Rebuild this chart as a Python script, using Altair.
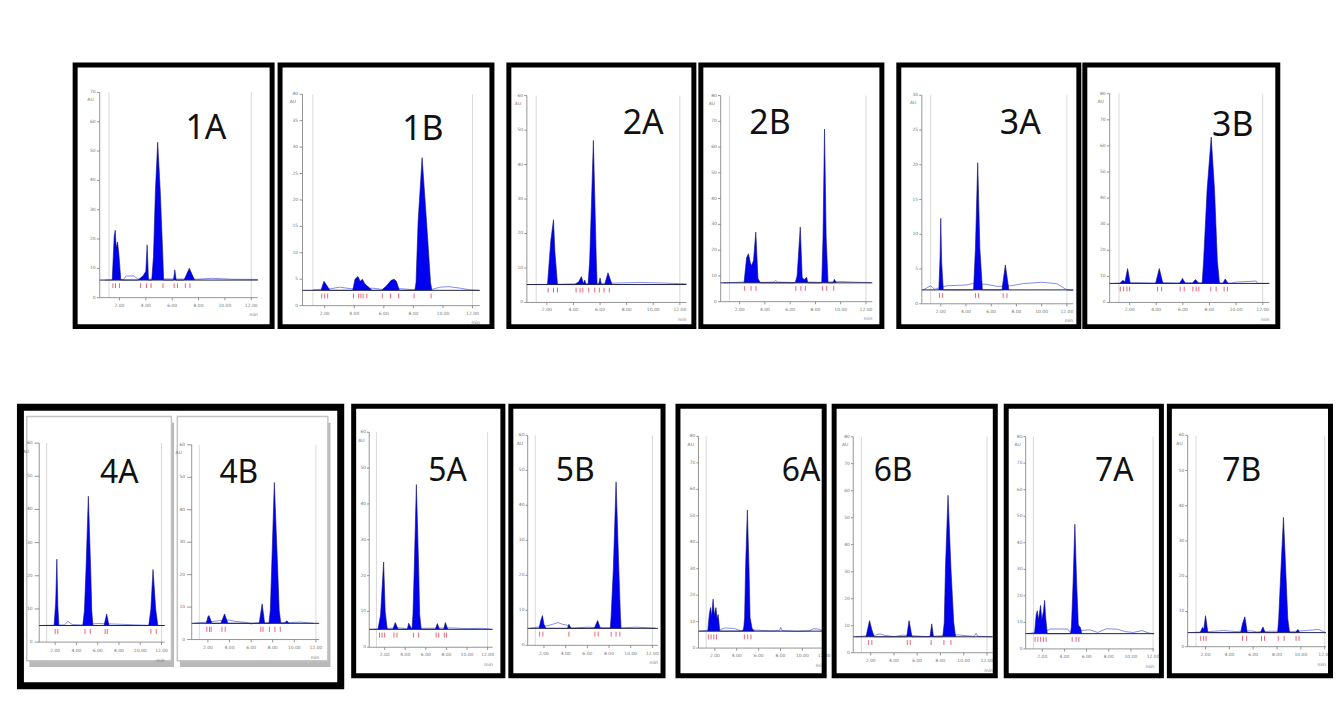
import altair as alt
import pandas as pd

# ---------------- chromatogram data: (retention time [min], signal) ----------------
PEAKS_1A = [(1.45,6),(1.6,21),(1.68,23),(1.75,17),(1.85,19),(1.95,15),(2.1,6),(3.4,6),(3.8,7.5),(4.0,9),(4.1,18),(4.2,6),
            (4.45,6),(4.58,14),(4.73,36.7),(4.9,53),(5.09,36.7),(5.29,14),(5.35,6),(6.1,6),(6.2,9.5),(6.3,6),(6.9,6),(7.3,10),(7.7,6)]
DRIFT_1A = [(0.9,6),(2.3,6.2),(2.5,7.4),(3.1,7.4),(3.4,6.3),(5.5,6.4),(8.0,6.3),(9.0,6.6),(10.5,6.3),(12.5,6.2)]
MARK_1A = [1.5, 1.7, 2.0, 3.6, 4.05, 4.4, 5.3, 6.15, 6.4, 7.0, 7.35]

PEAKS_1B = [(1.75,2.9),(1.95,4.6),(2.1,4.0),(2.35,2.9),(3.9,2.9),(4.05,5.0),(4.25,5.5),(4.4,4.6),(4.55,5.0),(4.7,4.2),(4.85,3.8),
            (5.2,2.9),(5.85,2.9),(6.2,3.8),(6.5,4.8),(6.7,5.0),(6.85,4.6),(7.05,2.9),(8.1,2.9),(8.18,4.4),(8.32,15.9),(8.59,28),
            (8.89,15.9),(9.16,4.4),(9.25,2.9)]
DRIFT_1B = [(1.2,3.0),(2.4,3.2),(3.0,3.5),(3.8,3.2),(5.3,3.3),(5.8,3.1),(7.2,3.2),(8.0,3.0),(9.3,3.1),(9.8,3.5),(10.4,3.6),
            (11.2,3.3),(11.8,3.0),(12.4,2.9)]
MARK_1B = [1.8, 2.0, 2.2, 3.95, 4.3, 4.45, 4.6, 4.85, 5.9, 6.45, 7.0, 8.05, 9.2]

PEAKS_2A = [(2.05,5.2),(2.3,18),(2.5,24),(2.6,15),(2.8,5.2),(4.1,5.2),(4.4,6.0),(4.6,7.5),(4.75,5.5),(4.85,6.5),(4.95,5.2),
            (5.1,5.2),(5.22,12),(5.35,28),(5.5,47),(5.62,28),(5.72,12),(5.78,5.2),(5.9,5.2),(6.0,7.1),(6.1,5.2),(6.35,5.2),
            (6.6,8.6),(6.9,5.2)]
DRIFT_2A = [(0.8,5.2),(3.0,5.3),(4.0,5.4),(7.0,5.6),(9.0,5.8),(11.0,5.6),(12.5,5.4)]
MARK_2A = [2.1, 2.5, 2.8, 4.2, 4.5, 4.7, 5.15, 5.6, 5.95, 6.3, 6.7]

PEAKS_2B = [(2.35,7.3),(2.55,17),(2.7,18.6),(2.85,15),(2.95,14),(3.1,16),(3.28,27),(3.45,9),(3.65,7.3),(6.4,7.3),(6.55,10),
            (6.8,29),(6.95,9.5),(7.1,8.5),(7.3,9.5),(7.4,7.3),(8.5,7.3),(8.6,25),(8.72,67),(8.85,25),(9.0,7.3),(9.4,7.3),
            (9.5,8.7),(9.65,7.3)]
DRIFT_2B = [(0.8,7.3),(2.3,7.6),(3.7,7.5),(4.7,7.6),(4.85,8.2),(5.0,7.6),(6.3,7.4),(7.5,7.6),(8.4,7.5),(10.0,7.8),(11.0,7.6),(12.4,7.4)]
MARK_2B = [2.4, 2.9, 3.3, 6.45, 6.85, 7.2, 8.55, 8.9, 9.45]

PEAKS_3A = [(1.85,2.0),(1.95,7),(2.0,12.3),(2.07,6),(2.2,2.0),(4.6,2.0),(4.75,8),(4.93,20.3),(5.1,8),(5.3,2.0),(6.85,2.0),
            (7.12,5.6),(7.4,2.0)]
DRIFT_3A = [(0.6,2.0),(1.2,2.6),(1.5,2.1),(2.5,2.6),(4.0,2.7),(4.5,2.9),(5.6,2.8),(6.5,2.5),(7.6,2.6),(8.5,2.9),(10.0,3.1),
            (11.2,2.9),(12.0,2.0),(12.5,1.9)]
MARK_3A = [1.9, 2.15, 4.75, 5.0, 6.95, 7.25]

PEAKS_3B = [(1.25,7.3),(1.5,8.5),(1.65,7.8),(1.85,13),(2.05,7.3),(3.95,7.3),(4.23,13),(4.5,7.3),(5.75,7.3),(5.97,9.2),(6.2,7.3),
            (6.7,7.3),(6.95,8.8),(7.2,7.3),(7.45,7.3),(7.56,16),(7.82,43),(8.13,63.4),(8.38,43),(8.59,16),(8.75,7.3),(9.0,7.3),
            (9.18,9),(9.4,7.3)]
DRIFT_3B = [(0.8,7.3),(2.2,7.6),(3.8,7.4),(4.7,7.6),(5.6,7.4),(6.4,7.6),(9.6,7.4),(10.0,7.8),(11.5,8.2),(11.6,7.3),(12.4,7.3)]
MARK_3B = [1.3, 1.55, 1.8, 2.0, 4.1, 4.4, 5.8, 6.1, 6.75, 7.0, 7.2, 8.1, 8.5, 9.1, 9.35]

PEAKS_4A = [(1.9,5),(2.05,12),(2.16,25),(2.25,11),(2.35,5),(4.6,5),(4.75,9.5),(4.9,21.9),(5.12,44),(5.34,21.9),(5.44,9.5),
            (5.55,5),(6.6,5),(6.84,8.5),(7.06,5),(10.8,5),(11.0,10),(11.2,21.9),(11.45,10),(11.65,5)]
DRIFT_4A = [(0.7,5),(2.9,5.2),(3.2,6.3),(3.6,5.3),(4.4,5.2),(6.0,5.6),(8.0,5.4),(9.5,5.2),(10.5,5.1),(12.2,5.0)]
MARK_4A = [2.0, 2.25, 4.8, 5.3, 6.7, 6.9, 11.0, 11.5]

PEAKS_4B = [(1.85,5),(2.0,7.0),(2.1,7.4),(2.37,5),(3.2,5),(3.54,7.9),(3.85,5),(6.75,5),(7.02,11),(7.25,5),(7.65,5),(7.78,9),
            (7.9,21.6),(8.15,48.4),(8.46,21.6),(8.6,9),(8.75,5),(9.1,5),(9.3,5.8),(9.5,5)]
DRIFT_4B = [(0.7,5),(1.6,5.3),(2.5,5.6),(3.0,5.8),(4.0,6.0),(4.5,5.6),(5.5,5.3),(6.0,4.8),(6.5,5.1),(9.6,5.2),(10.5,5.4),(11.8,5.0)]
MARK_4B = [1.9, 2.15, 2.3, 3.3, 3.6, 6.9, 7.1, 7.7, 8.2, 8.7]

PEAKS_5A = [(1.35,5),(1.6,9),(1.9,23.8),(2.05,10),(2.25,5),(2.8,5),(3.03,6.9),(3.3,5),(4.2,5),(4.33,6.7),(4.5,5.8),(4.66,5),
            (4.75,9.2),(4.88,22.4),(5.08,45.4),(5.3,22.4),(5.4,9.2),(5.55,5),(6.93,5),(7.12,6.6),(7.32,5),(7.74,5),(7.9,6.9),(8.13,5)]
DRIFT_5A = [(0.6,5),(2.4,5.3),(3.5,5.4),(4.1,5.2),(6.0,5.3),(8.5,5.4),(10.0,5.2),(11.5,5.3),(12.4,5.0)]
MARK_5A = [1.5, 1.75, 2.0, 2.9, 3.2, 4.8, 5.3, 7.0, 7.25, 7.8, 8.0]

PEAKS_5B = [(1.55,4.85),(1.7,7),(1.86,8.5),(2.0,6),(2.17,4.85),(4.17,4.85),(4.3,6),(4.48,4.85),(6.64,4.85),(6.95,7.1),(7.2,4.85),
            (8.12,4.85),(8.2,8.5),(8.4,22),(8.65,46.7),(8.9,22),(9.05,8.5),(9.11,4.85)]
DRIFT_5B = [(0.7,4.85),(2.3,5.6),(2.8,6.0),(3.3,6.5),(3.7,6.0),(4.1,5.8),(4.6,4.9),(6.0,5.2),(7.5,5.0),(9.3,5.0),(10.5,5.2),(12.3,4.9)]
MARK_5B = [1.6, 1.9, 4.3, 6.7, 7.0, 8.2, 8.65, 9.0]

PEAKS_6A = [(1.35,6.4),(1.5,13),(1.6,15.3),(1.7,12),(1.84,18.5),(1.95,12.5),(2.1,15.3),(2.2,11),(2.3,12.7),(2.45,6.4),(4.55,6.4),
            (4.65,8),(4.72,11.5),(4.81,30.6),(4.97,52.2),(5.12,30.6),(5.22,11.5),(5.4,7.5),(5.6,6.4)]
DRIFT_6A = [(0.6,6.4),(1.2,6.6),(2.5,7.0),(2.9,7.6),(3.8,7.4),(4.3,6.6),(5.8,6.8),(7.0,6.5),(7.9,6.6),(8.03,7.8),(8.15,6.6),
            (9.5,6.3),(10.6,6.5),(11.0,7.3),(11.5,7.2),(11.9,6.4)]
MARK_6A = [1.4, 1.65, 1.9, 2.15, 4.7, 5.0, 5.3]

PEAKS_6B = [(1.6,5.9),(1.9,11.9),(2.1,8.5),(2.3,5.9),(5.1,5.9),(5.3,11.9),(5.55,5.9),(7.1,5.9),(7.25,10.7),(7.4,5.9),(8.2,5.9),
            (8.33,11.3),(8.43,31.3),(8.65,58.3),(8.9,31.3),(9.14,11.3),(9.3,5.9)]
DRIFT_6B = [(0.7,5.9),(2.4,6.5),(2.8,7.0),(3.2,6.4),(4.0,6.0),(4.8,6.5),(6.0,6.2),(6.8,6.0),(9.5,6.6),(10.5,6.2),(10.9,6.1),
            (11.07,7.2),(11.2,6.1),(12.4,5.9)]
MARK_6B = [1.8, 2.1, 5.15, 5.4, 7.2, 8.3, 8.9]

PEAKS_7A = [(1.3,5.75),(1.45,13),(1.55,14.4),(1.65,11),(1.85,16.4),(1.95,11),(2.1,14),(2.21,18.3),(2.3,12),(2.45,5.75),
            (4.55,5.75),(4.64,9),(4.78,25),(4.94,47),(5.1,25),(5.25,9),(5.45,8),(5.55,5.75)]
DRIFT_7A = [(0.7,5.75),(2.5,7.0),(2.7,7.5),(4.3,7.5),(4.5,6.2),(5.7,7.0),(6.3,7.2),(7.0,6.2),(7.8,7.6),(8.8,7.4),(9.5,6.5),
            (10.2,6.2),(11.0,6.9),(11.6,6.0),(12.0,5.75)]
MARK_7A = [1.35, 1.6, 1.85, 2.1, 2.35, 4.7, 5.05, 5.3]

PEAKS_7B = [(1.55,4),(1.75,5.5),(1.85,4.8),(2.0,8.8),(2.2,4),(4.95,4),(5.1,6.5),(5.3,8.5),(5.5,4),(6.6,4),(6.82,5.6),(7.0,4),
            (8.05,4),(8.14,8),(8.3,20),(8.54,36.7),(8.75,20),(8.9,8),(9.05,4),(9.55,4),(9.75,4.9),(9.9,4)]
DRIFT_7B = [(0.7,4),(2.4,4.3),(3.5,4.6),(4.5,4.3),(5.8,4.5),(6.3,4.2),(7.5,4.4),(9.2,4.3),(10.5,4.6),(11.5,4.9),(12.0,4.1)]
MARK_7B = [1.6, 1.85, 2.05, 5.1, 5.45, 6.7, 6.95, 8.1, 8.6, 9.6, 9.85]

PEAKS = {"1A": PEAKS_1A, "1B": PEAKS_1B, "2A": PEAKS_2A, "2B": PEAKS_2B, "3A": PEAKS_3A, "3B": PEAKS_3B, "4A": PEAKS_4A,
         "4B": PEAKS_4B, "5A": PEAKS_5A, "5B": PEAKS_5B, "6A": PEAKS_6A, "6B": PEAKS_6B, "7A": PEAKS_7A, "7B": PEAKS_7B}
DRIFT = {"1A": DRIFT_1A, "1B": DRIFT_1B, "2A": DRIFT_2A, "2B": DRIFT_2B, "3A": DRIFT_3A, "3B": DRIFT_3B, "4A": DRIFT_4A,
         "4B": DRIFT_4B, "5A": DRIFT_5A, "5B": DRIFT_5B, "6A": DRIFT_6A, "6B": DRIFT_6B, "7A": DRIFT_7A, "7B": DRIFT_7B}
MARKS = {"1A": MARK_1A, "1B": MARK_1B, "2A": MARK_2A, "2B": MARK_2B, "3A": MARK_3A, "3B": MARK_3B, "4A": MARK_4A,
         "4B": MARK_4B, "5A": MARK_5A, "5B": MARK_5B, "6A": MARK_6A, "6B": MARK_6B, "7A": MARK_7A, "7B": MARK_7B}
BASE = {"1A": 6.0, "1B": 2.9, "2A": 5.2, "2B": 7.3, "3A": 2.0, "3B": 7.3, "4A": 5.0, "4B": 5.0, "5A": 5.0, "5B": 4.85,
        "6A": 6.4, "6B": 5.9, "7A": 5.75, "7B": 4.0}
YMAX = {"1A": 70, "1B": 40, "2A": 60, "2B": 80, "3A": 30, "3B": 80, "4A": 60, "4B": 60, "5A": 60, "5B": 60,
        "6A": 80, "6B": 80, "7A": 80, "7B": 60}
YSTEP = {"1A": 10, "1B": 5, "2A": 10, "2B": 10, "3A": 5, "3B": 10, "4A": 10, "4B": 10, "5A": 10, "5B": 10,
         "6A": 10, "6B": 10, "7A": 10, "7B": 10}
X_TICKS = [2, 4, 6, 8, 10, 12]
GUIDES = [1.2, 12.0]

# ---------------- layout: fractions of each framed view ----------------
LAYOUT = {
    "1A": dict(u0=.134, u1=.917, v0=.118, v1=.888, t_end=12.5, lab=(.66, .75)),
    "1B": dict(u0=.115, u1=.933, v0=.088, v1=.881, t_end=12.5, lab=(.67, .746)),
    "2A": dict(u0=.108, u1=.948, v0=.100, v1=.876, t_end=12.5, lab=(.72, .77)),
    "2B": dict(u0=.120, u1=.935, v0=.103, v1=.876, t_end=12.5, lab=(.385, .77)),
    "3A": dict(u0=.138, u1=.956, v0=.095, v1=.877, t_end=12.5, lab=(.67, .77)),
    "3B": dict(u0=.138, u1=.945, v0=.100, v1=.883, t_end=12.5, lab=(.76, .76)),
    "4A": dict(u0=.068, u1=.458, v0=.165, v1=.862, t_end=12.3, lab=(.313, .756)),
    "4B": dict(u0=.534, u1=.930, v0=.174, v1=.856, t_end=12.3, lab=(.678, .756)),
    "5A": dict(u0=.117, u1=.918, v0=.113, v1=.896, t_end=12.5, lab=(.625, .756)),
    "5B": dict(u0=.123, u1=.951, v0=.120, v1=.885, t_end=12.5, lab=(.425, .756)),
    "6A": dict(u0=.152, u1=1.02, v0=.110, v1=.881, t_end=12.0, lab=(.83, .756)),
    "6B": dict(u0=.130, u1=.970, v0=.093, v1=.880, t_end=12.5, lab=(.37, .756)),
    "7A": dict(u0=.137, u1=.967, v0=.107, v1=.880, t_end=12.1, lab=(.69, .754)),
    "7B": dict(u0=.125, u1=.986, v0=.115, v1=.885, t_end=12.1, lab=(.45, .754)),
}
SUBFRAME = {"4A": (0.03, 0.472, 0.10, 0.955), "4B": (0.49, 0.95, 0.10, 0.955)}

BLUE = "#0000f0"
EDGE = "#10107a"


def sc():
    return alt.Scale(domain=[0, 1], nice=False, zero=False)


def X(f):
    return alt.X(f, type="quantitative", scale=sc(), axis=None)


def Y(f):
    return alt.Y(f, type="quantitative", scale=sc(), axis=None)


def frames(name):
    L = LAYOUT[name]
    ymax, base, tend = YMAX[name], BASE[name], L["t_end"]

    def um(t):
        return L["u0"] + (t - 0.5) / 12.0 * (L["u1"] - L["u0"])

    def vm(y):
        return L["v0"] + y / ymax * (L["v1"] - L["v0"])

    vb = vm(base)
    peaks = [{"sub": name, "u": um(t), "v": vm(y), "vb": vb} for t, y in PEAKS[name]]
    drift = [{"sub": name, "u": um(t), "v": vm(y)} for t, y in DRIFT[name]]
    baseline = [{"u": um(0.5), "u2": um(tend), "v": vb, "v2": vb}]
    axes = [{"u": um(0.5), "u2": um(0.5), "v": vm(0), "v2": vm(ymax)},
            {"u": um(0.5), "u2": um(tend), "v": vm(0), "v2": vm(0)}]
    ylab, xlab = [], []
    for y in range(0, ymax + 1, YSTEP[name]):
        axes.append({"u": um(0.5) - 0.014, "u2": um(0.5), "v": vm(y), "v2": vm(y)})
        ylab.append({"u": um(0.5) - 0.02, "v": vm(y), "text": str(y)})
    for t in X_TICKS:
        if t <= tend:
            axes.append({"u": um(t), "u2": um(t), "v": vm(0), "v2": vm(0) - 0.01})
            xlab.append({"u": um(t), "v": vm(0) - 0.03, "text": f"{t:.2f}"})
    unit_x = [{"u": um(tend), "v": vm(0) - 0.065, "text": "min"}]
    ylab.append({"u": um(0.5) - 0.03, "v": vm(ymax) - 0.03, "text": "AU"})
    guides = [{"u": um(t), "u2": um(t), "v": vm(0), "v2": vm(ymax)} for t in GUIDES if t <= tend]
    marks = [{"u": um(t), "u2": um(t), "v": vb - 0.012, "v2": vb - 0.03} for t in MARKS[name]]
    title = [{"u": L["lab"][0], "v": L["lab"][1], "text": name}]
    return dict(peaks=peaks, drift=drift, baseline=baseline, axes=axes, ylab=ylab, xlab=xlab, unit_x=unit_x,
                guides=guides, marks=marks, title=title)


def view(names, width, height, sw, fs):
    acc = {}
    for n in names:
        for k, v in frames(n).items():
            acc.setdefault(k, []).extend(v)
    D = {k: pd.DataFrame(v) for k, v in acc.items()}
    layers = []
    subs = [SUBFRAME[n] for n in names if n in SUBFRAME]
    if subs:
        shadow = pd.DataFrame([{"u": a + 0.008, "u2": b + 0.008, "v": c - 0.022, "v2": d - 0.022} for a, b, c, d in subs])
        panel = pd.DataFrame([{"u": a, "u2": b, "v": c, "v2": d} for a, b, c, d in subs])
        layers.append(alt.Chart(shadow).mark_rect(color="#a8a8a8", opacity=0.8).encode(
            x=X("u"), x2="u2", y=Y("v"), y2="v2"))
        layers.append(alt.Chart(panel).mark_rect(fill="white", stroke="#c4c4c4", strokeWidth=1.5).encode(
            x=X("u"), x2="u2", y=Y("v"), y2="v2"))
    layers.append(alt.Chart(D["guides"]).mark_rule(color="#cfcfcf", strokeWidth=0.8).encode(
        x=X("u"), x2="u2", y=Y("v"), y2="v2"))
    layers.append(alt.Chart(D["axes"]).mark_rule(color="#7a7a7a", strokeWidth=0.8).encode(
        x=X("u"), x2="u2", y=Y("v"), y2="v2"))
    layers.append(alt.Chart(D["ylab"]).mark_text(fontSize=4.5, color="#777777", align="right", baseline="middle",
                                                font="DejaVu Sans").encode(x=X("u"), y=Y("v"), text="text:N"))
    layers.append(alt.Chart(D["xlab"]).mark_text(fontSize=4.5, color="#777777", align="center", baseline="middle",
                                                font="DejaVu Sans").encode(x=X("u"), y=Y("v"), text="text:N"))
    layers.append(alt.Chart(D["unit_x"]).mark_text(fontSize=4.5, color="#777777", align="right", baseline="middle",
                                                  font="DejaVu Sans").encode(x=X("u"), y=Y("v"), text="text:N"))
    layers.append(alt.Chart(D["drift"]).mark_line(color="#5b6be0", strokeWidth=0.9, opacity=0.85).encode(
        x=X("u"), y=Y("v"), detail="sub:N"))
    layers.append(alt.Chart(D["peaks"]).mark_area(color=BLUE, opacity=1, fillOpacity=1,
                                                 line={"color": EDGE, "strokeWidth": 0.6}).encode(
        x=X("u"), y=Y("v"), y2="vb", detail="sub:N"))
    layers.append(alt.Chart(D["baseline"]).mark_rule(color="#22224a", strokeWidth=1).encode(
        x=X("u"), x2="u2", y=Y("v"), y2="v2"))
    layers.append(alt.Chart(D["marks"]).mark_rule(color="#e0405a", strokeWidth=0.8).encode(
        x=X("u"), x2="u2", y=Y("v"), y2="v2"))
    layers.append(alt.Chart(D["title"]).mark_text(fontSize=fs, color="#111111", align="center", baseline="middle",
                                                 font="Noto Sans").encode(x=X("u"), y=Y("v"), text="text:N"))
    # black frame drawn inset so that it stays exactly inside the view
    hx, hy = sw / 2.0 / width, sw / 2.0 / height
    frame = pd.DataFrame([{"u": hx, "u2": 1 - hx, "v": hy, "v2": 1 - hy}])
    layers.append(alt.Chart(frame).mark_rect(fillOpacity=0, stroke="black", strokeWidth=sw).encode(
        x=X("u"), x2="u2", y=Y("v"), y2="v2"))
    return alt.layer(*layers).properties(
        width=width, height=height,
        view=alt.ViewBackground(stroke="transparent", strokeWidth=0, fill="white"))


spacer = alt.Chart(pd.DataFrame({"a": [0]})).mark_point(opacity=0, size=1).encode(
    x=alt.value(20), y=alt.value(5)).properties(
    width=44, height=10, view=alt.ViewBackground(stroke="transparent", strokeWidth=0))

H1, H2 = 268, 276
row1 = alt.hconcat(
    spacer,
    alt.hconcat(
        alt.hconcat(view(["1A"], 203, H1, 5, 34), view(["1B"], 218, H1, 5, 34), spacing=3),
        alt.hconcat(view(["2A"], 191, H1, 5, 34), view(["2B"], 187, H1, 5, 34), spacing=2),
        alt.hconcat(view(["3A"], 186, H1, 5, 34), view(["3B"], 199, H1, 5, 34), spacing=1),
        spacing=12),
    spacing=12)

box4 = view(["4A", "4B"], 329, 287, 7, 32)
pair5 = alt.hconcat(view(["5A"], 155, H2, 5, 32), view(["5B"], 158, H2, 5, 32), spacing=3)
pair6 = alt.hconcat(view(["6A"], 152, H2, 5, 32), view(["6B"], 167, H2, 5, 32), spacing=1)
pair7 = alt.hconcat(view(["7A"], 161, H2, 5, 32), view(["7B"], 167, H2, 5, 32), spacing=3)
row2 = alt.hconcat(alt.hconcat(alt.hconcat(box4, pair5, spacing=7), pair6, spacing=10), pair7, spacing=6)

chart = alt.vconcat(row1, row2, spacing=75).properties(
    padding={"left": 9, "top": 52, "right": 0, "bottom": 5}
).configure(background="white")

chart.save("out.html", embed_options={"renderer": "svg", "actions": False})
